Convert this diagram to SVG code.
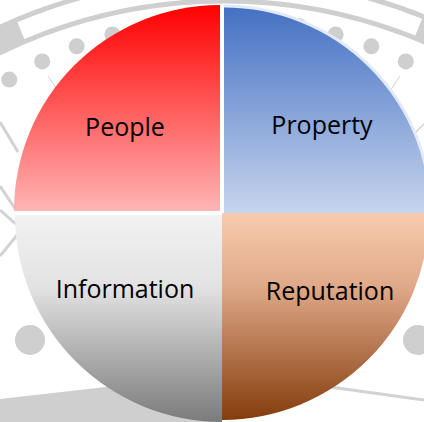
<svg xmlns="http://www.w3.org/2000/svg" width="424" height="422" viewBox="0 0 424 422">
  <defs>
    <linearGradient id="gRed" x1="0" y1="0" x2="0" y2="1">
      <stop offset="0" stop-color="#FF0000"/>
      <stop offset="1" stop-color="#FFB5B5"/>
    </linearGradient>
    <linearGradient id="gBlue" x1="0" y1="0" x2="0" y2="1">
      <stop offset="0" stop-color="#4370C3"/>
      <stop offset="1" stop-color="#C7D5ED"/>
    </linearGradient>
    <linearGradient id="gGray" x1="0" y1="0" x2="0" y2="1">
      <stop offset="0" stop-color="#F2F2F2"/>
      <stop offset="0.35" stop-color="#E2E2E2"/>
      <stop offset="1" stop-color="#7B7B7B"/>
    </linearGradient>
    <linearGradient id="gBrown" x1="0" y1="0" x2="0" y2="1">
      <stop offset="0" stop-color="#F8CBAD"/>
      <stop offset="0.35" stop-color="#E0AA8A"/>
      <stop offset="1" stop-color="#843C0C"/>
    </linearGradient>
    <style>
      .bg { fill: #CFCFCF; }
      .bgl { stroke: #D2D2D2; fill: none; }
      .lbl { font-family: "Open Sans", "Noto Sans", sans-serif; font-size: 25px; fill: #000; text-anchor: middle; }
    </style>
  </defs>

  <rect width="424" height="422" fill="#FFFFFF"/>

  <g id="background">
    <path d="M -111.5 111.6 A 522 522 0 0 1 559.5 111.6" fill="none" stroke="#CFCFCF" stroke-width="28"/>
    <path d="M 20.9 30.6 A 522 522 0 0 1 418.7 27.2" fill="none" stroke="#FFFFFF" stroke-width="18"/>
    <circle class="bg" cx="186.4" cy="20.7" r="8"/>
    <circle class="bg" cx="149.1" cy="25.9" r="8"/>
    <circle class="bg" cx="112.4" cy="34.4" r="8"/>
    <circle class="bg" cx="76.7" cy="46.3" r="8"/>
    <circle class="bg" cx="42.2" cy="61.4" r="8"/>
    <circle class="bg" cx="9.3" cy="79.6" r="8"/>
    <circle class="bg" cx="261.6" cy="20.7" r="8"/>
    <circle class="bg" cx="298.9" cy="25.9" r="8"/>
    <circle class="bg" cx="335.6" cy="34.4" r="8"/>
    <circle class="bg" cx="371.3" cy="46.3" r="8"/>
    <circle class="bg" cx="405.8" cy="61.4" r="8"/>
    <circle class="bg" cx="438.7" cy="79.6" r="8"/>
    <line class="bgl" x1="48" y1="76" x2="72" y2="112" stroke-width="1"/>
    <line class="bgl" x1="400" y1="76" x2="380" y2="106" stroke-width="1"/>
    <line class="bgl" x1="0" y1="122" x2="18" y2="152" stroke-width="3"/>
    <line class="bgl" x1="0" y1="186" x2="16" y2="210" stroke-width="3"/>
    <line class="bgl" x1="0" y1="210" x2="18" y2="226" stroke-width="3"/>
    <line class="bgl" x1="0" y1="256" x2="18" y2="234" stroke-width="3"/>
    <line class="bgl" x1="424" y1="124" x2="412" y2="136" stroke-width="1.5"/>
    <circle class="bg" cx="30" cy="340" r="15"/>
    <circle class="bg" cx="418" cy="340" r="15"/>
    <polygon class="bg" points="0,399 220,374 220,422 0,422"/>
    <line class="bgl" x1="330" y1="387" x2="424" y2="400" stroke-width="3"/>
  </g>

  <g id="people">
    <path d="M220 211 L14 211 A206 206 0 0 1 220 5 Z" fill="url(#gRed)"/>
    <text class="lbl" x="125" y="136">People</text>
  </g>

  <g id="property">
    <path d="M224 213 L224 6 A207 207 0 0 1 431 213 Z" fill="url(#gBlue)"/>
    <path d="M224 6 A207 207 0 0 1 431 213" fill="none" stroke="#E3EAF6" stroke-width="3"/>
    <text class="lbl" x="322" y="134">Property</text>
  </g>

  <g id="information">
    <path d="M222 215 L222 422 A207 207 0 0 1 15 215 Z" fill="url(#gGray)"/>
    <text class="lbl" x="125" y="298">Information</text>
  </g>

  <g id="reputation">
    <path d="M222 213 L429 213 A207 207 0 0 1 222 420 Z" fill="url(#gBrown)"/>
    <text class="lbl" x="330" y="300">Reputation</text>
  </g>

  <g id="connectors"></g>
</svg>
